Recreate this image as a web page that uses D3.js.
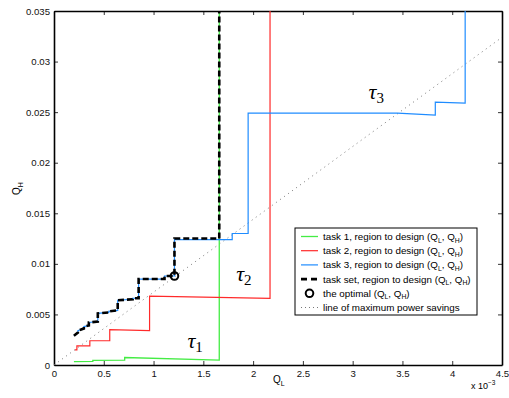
<!DOCTYPE html>
<html>
<head>
<meta charset="utf-8">
<script src="https://cdn.jsdelivr.net/npm/d3@7"></script>
<style>
  body { margin: 0; background: #fff; }
  svg { display: block; font-family: 'Liberation Sans', Arial, Helvetica, sans-serif; }
</style>
</head>
<body>
<div id="chart"></div>
<script>
// Q_L values are in units of 1e-3 (axis shows "x 10^-3")
const task1 = [[0.20, 0.00033], [0.39, 0.00036], [0.39, 0.00046], [0.71, 0.00048], [0.71, 0.00074], [1.66, 0.00049], [1.66, 0.035]]
const task2 = [[0.21, 0.0015], [0.23, 0.0015], [0.23, 0.0019], [0.36, 0.0019], [0.36, 0.0024], [0.56, 0.0024], [0.56, 0.0035],
  [0.96, 0.0034], [0.96, 0.0068], [2.17, 0.00658], [2.17, 0.035]]
const task3 = [[0.20, 0.0029], [0.24, 0.0032], [0.24, 0.0034], [0.30, 0.0036], [0.30, 0.0038], [0.35, 0.0039], [0.35, 0.0042],
  [0.44, 0.0043], [0.44, 0.0051], [0.55, 0.0052], [0.55, 0.0053], [0.64, 0.0054], [0.64, 0.0064], [0.79, 0.0065],
  [0.79, 0.0066], [0.85, 0.0066], [0.85, 0.0085], [1.11, 0.0085], [1.11, 0.0088], [1.21, 0.0088], [1.21, 0.0124],
  [1.79, 0.0124], [1.79, 0.0130], [1.95, 0.0130], [1.95, 0.0249], [3.45, 0.0249], [3.83, 0.0247], [3.83, 0.0260],
  [4.13, 0.0259], [4.13, 0.035]]
const taskSet = [[0.20, 0.0029], [0.24, 0.0032], [0.24, 0.0034], [0.30, 0.0036], [0.30, 0.0038], [0.35, 0.0039], [0.35, 0.0042],
  [0.44, 0.0043], [0.44, 0.0051], [0.55, 0.0052], [0.55, 0.0053], [0.64, 0.0054], [0.64, 0.0064], [0.79, 0.0065],
  [0.79, 0.0066], [0.85, 0.0066], [0.85, 0.0085], [1.11, 0.0085], [1.11, 0.0088], [1.21, 0.0088], [1.21, 0.0125],
  [1.66, 0.0125], [1.66, 0.035]]
const optimal = [1.21, 0.0088]
const maxSavings = [[0, 0], [4.5, 0.0324]]

const xTicks = [0, 0.5, 1, 1.5, 2, 2.5, 3, 3.5, 4, 4.5]
const yTicks = [0, 0.005, 0.01, 0.015, 0.02, 0.025, 0.03, 0.035]

const legendItems = ['task 1', 'task 2', 'task 3', 'task set']
const tauLabels = [
  { sub: '1', at: [1.34, 0.0017] },
  { sub: '2', at: [1.83, 0.0083] },
  { sub: '3', at: [3.16, 0.0263] }
]

const colors = { task1: '#44ec44', task2: '#ff2a2a', task3: '#1f8cff' }

const margin = { top: 11, right: 7, bottom: 33, left: 54 }
const W = 509
const H = 398
const width = W - margin.left - margin.right
const height = H - margin.top - margin.bottom

const svg = d3.select('#chart').append('svg')
  .attr('width', W)
  .attr('height', H)

const g = svg.append('g')
  .attr('transform', 'translate(' + margin.left + ',' + margin.top + ')')

const x = d3.scaleLinear().domain([0, 4.5]).range([0, width])
const y = d3.scaleLinear().domain([0, 0.035]).range([height, 0])

const line = d3.line().x(d => x(d[0])).y(d => y(d[1]))

// axes with inward ticks on all four sides
const yFmt = d => d === 0 ? '0' : String(+d.toFixed(3))
const xFmt = d => String(d)

g.append('g').attr('transform', 'translate(0,' + height + ')')
  .call(d3.axisBottom(x).tickValues(xTicks).tickFormat(xFmt).tickSizeInner(-4).tickSizeOuter(0).tickPadding(5))
g.append('g')
  .call(d3.axisTop(x).tickValues(xTicks).tickFormat('').tickSizeInner(-4).tickSizeOuter(0))
g.append('g')
  .call(d3.axisLeft(y).tickValues(yTicks).tickFormat(yFmt).tickSizeInner(-4).tickSizeOuter(0).tickPadding(4))
g.append('g').attr('transform', 'translate(' + width + ',0)')
  .call(d3.axisRight(y).tickValues(yTicks).tickFormat('').tickSizeInner(-4).tickSizeOuter(0))

g.selectAll('.domain').attr('stroke', '#000').attr('stroke-width', 1.6)
g.selectAll('.tick line').attr('stroke', '#000').attr('stroke-width', 0.8)
g.selectAll('.tick text').attr('font-size', 9.6).attr('fill', '#111')
  .attr('font-family', "'Liberation Sans', Arial, sans-serif")

const plot = g.append('g')

plot.append('path').datum(maxSavings)
  .attr('d', line).attr('fill', 'none')
  .attr('stroke', '#777').attr('stroke-width', 1).attr('stroke-dasharray', '1,4')

plot.append('path').datum(task1)
  .attr('d', line).attr('fill', 'none').attr('stroke', colors.task1).attr('stroke-width', 1.3)
plot.append('path').datum(task2)
  .attr('d', line).attr('fill', 'none').attr('stroke', colors.task2).attr('stroke-width', 1.2)
plot.append('path').datum(task3)
  .attr('d', line).attr('fill', 'none').attr('stroke', colors.task3).attr('stroke-width', 1.2)
plot.append('path').datum(taskSet)
  .attr('d', line).attr('fill', 'none').attr('stroke', '#000').attr('stroke-width', 2.6)
  .attr('stroke-dasharray', '6,3')

plot.append('circle')
  .attr('cx', x(optimal[0])).attr('cy', y(optimal[1])).attr('r', 3.8)
  .attr('fill', 'none').attr('stroke', '#000').attr('stroke-width', 2)

// tau labels
tauLabels.forEach(t => {
  const tx = plot.append('text')
    .attr('x', x(t.at[0])).attr('y', y(t.at[1]))
    .attr('font-family', "'Liberation Serif', 'DejaVu Serif', serif")
  tx.append('tspan').attr('font-size', 22).attr('font-style', 'italic').text('τ')
  tx.append('tspan').attr('font-size', 15).attr('dy', 4).text(t.sub)
})

// axis labels
const xl = svg.append('text').attr('x', 273).attr('y', 383).attr('font-size', 10)
xl.append('tspan').text('Q')
xl.append('tspan').attr('font-size', 7).attr('dy', 3).text('L')

const xm = svg.append('text').attr('x', 471).attr('y', 389).attr('font-size', 9)
xm.append('tspan').text('x 10')
xm.append('tspan').attr('font-size', 6.5).attr('dy', -4).text('−3')

const yl = svg.append('text').attr('transform', 'translate(20,195) rotate(-90)').attr('font-size', 10)
yl.append('tspan').text('Q')
yl.append('tspan').attr('font-size', 7).attr('dy', 3).text('H')

// legend
const lg = svg.append('g').attr('transform', 'translate(295,228)')
lg.append('rect').attr('width', 182).attr('height', 87)
  .attr('fill', '#fff').attr('stroke', '#000').attr('stroke-width', 1)

const rowY = i => 8.5 + i * 14.2
const legendText = (sel, prefix, i) => {
  const t = sel.append('text').attr('x', 28).attr('y', rowY(i) + 3.5).attr('font-size', 9.8)
  t.append('tspan').text(prefix + '(Q')
  t.append('tspan').attr('font-size', 6.8).attr('dy', 2.5).text('L')
  t.append('tspan').attr('dy', -2.5).text(', Q')
  t.append('tspan').attr('font-size', 6.8).attr('dy', 2.5).text('H')
  t.append('tspan').attr('dy', -2.5).text(')')
}

const legendStyles = [
  { stroke: colors.task1, w: 1.3, dash: null },
  { stroke: colors.task2, w: 1.2, dash: null },
  { stroke: colors.task3, w: 1.2, dash: null },
  { stroke: '#000', w: 2.6, dash: '6,4' }
]
legendItems.forEach((name, i) => {
  lg.append('line').attr('x1', 6).attr('x2', 23).attr('y1', rowY(i)).attr('y2', rowY(i))
    .attr('stroke', legendStyles[i].stroke).attr('stroke-width', legendStyles[i].w)
    .attr('stroke-dasharray', legendStyles[i].dash)
  legendText(lg, name + ', region to design ', i)
})
lg.append('circle').attr('cx', 14.5).attr('cy', rowY(4)).attr('r', 3.8)
  .attr('fill', 'none').attr('stroke', '#000').attr('stroke-width', 2)
legendText(lg, 'the optimal ', 4)
lg.append('line').attr('x1', 6).attr('x2', 23).attr('y1', rowY(5)).attr('y2', rowY(5))
  .attr('stroke', '#777').attr('stroke-width', 1).attr('stroke-dasharray', '1,3')
lg.append('text').attr('x', 28).attr('y', rowY(5) + 3.5).attr('font-size', 9.8)
  .text('line of maximum power savings')
</script>
</body>
</html>
